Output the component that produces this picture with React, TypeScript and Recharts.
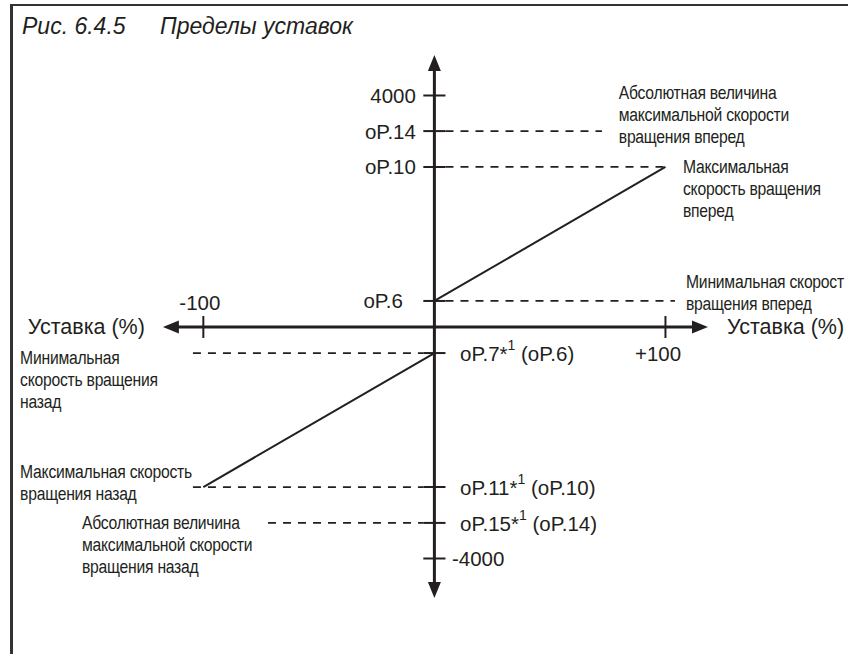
import React from 'react';
import { ComposedChart, Line, Scatter, XAxis, YAxis, ReferenceLine } from 'recharts';

const INK = '#231f20';
const MAIN_FONT = '"Liberation Sans", Arial, sans-serif';

// schematic units: x = setpoint %, y = speed levels (the drawing is not to scale)
const yTickValues = [4000, 3385, 2765, 450, -450, -2765, -3385, -4000];
const yTickLabels = ['4000', 'oP.14', 'oP.10', 'oP.6', 'oP.7*1 (oP.6)', 'oP.11*1 (oP.10)', 'oP.15*1 (oP.14)', '-4000'];
const yTickLabelX = [-8, -8, -8, -13.6, 11.1, 11.1, 11.1, 7.6];

const xTickValues = [-100, 100];
const xTickLabels = ['-100', '+100'];
const xTickLabelX = [-101.5, 96.8];
const xTickLabelY = [415, -450];

const axisNames = ['Уставка (%)', 'Уставка (%)'];
const axisNameX = [-125.3, 126.6];

const forwardLine = [{ x: 0, y: 450 }, { x: 100, y: 2765 }];
const reverseLine = [{ x: -100, y: -2765 }, { x: 0, y: -450 }];

// dashed guide lines: level, and where they stop away from the axis
const guideLevels = [3385, 2765, 450, -450, -2765, -3385];
const guideEnds = [72.5, 100, 104.1, -104.5, -104.5, -72];

const notes = [
    ['Абсолютная величина', 'максимальной скорости', 'вращения вперед'],
    ['Максимальная', 'скорость вращения', 'вперед'],
    ['Минимальная скорост', 'вращения вперед'],
    ['Минимальная', 'скорость вращения', 'назад'],
    ['Максимальная скорость', 'вращения назад'],
    ['Абсолютная величина', 'максимальной скорости', 'вращения назад'],
];
const noteX = [79.8, 107.6, 108.9, -179.3, -179.3, -152.5];
const noteY = [4043, 2764, 777, -536, -2505, -3386];

const axisEnds = { left: -117.5, right: 118.4, top: 4700, bottom: -4682 };
const TICK_HALF_X = 4.8;
const TICK_HALF_Y = 190;

const tickLabelData = yTickValues.map((v, i) => ({ x: yTickLabelX[i], y: v, text: yTickLabels[i], anchor: yTickLabelX[i] < 0 ? 'end' : 'start', size: 20.5 }))
    .concat(xTickValues.map((_, i) => ({ x: xTickLabelX[i], y: xTickLabelY[i], text: xTickLabels[i], anchor: 'middle', size: 20.5 })))
    .concat(axisNames.map((t, i) => ({ x: axisNameX[i], y: 0, text: t, anchor: axisNameX[i] < 0 ? 'end' : 'start', size: 21.5 })));

const noteData = notes.map((lines, i) => ({ x: noteX[i], y: noteY[i], lines }));

const arrowData = [
    { x: axisEnds.left, y: 0 },
    { x: axisEnds.right, y: 0 },
    { x: 0, y: axisEnds.top },
    { x: 0, y: axisEnds.bottom },
];

const TickText = (props: any) => {
    const { cx, cy, payload } = props;
    const text: string = payload.text;
    const parts = text.split('*1');
    return (
        <text x={cx} y={cy} textAnchor={payload.anchor} dominantBaseline="central"
            fontFamily={MAIN_FONT} fontSize={payload.size} fill={INK}>
            {parts.length === 1 ? text : (
                <>
                    <tspan>{parts[0] + '*'}</tspan>
                    <tspan dy={-8} fontSize={14}>1</tspan>
                    <tspan dy={8}>{parts[1]}</tspan>
                </>
            )}
        </text>
    );
};

// the source uses a condensed face, so squeeze the regular one
const NoteText = (props: any) => {
    const { cx, cy, payload } = props;
    return (
        <text transform={`translate(${cx},${cy}) scale(0.85,1)`} dominantBaseline="central"
            fontFamily={MAIN_FONT} fontSize={18.5} letterSpacing={-0.3} fill={INK}>
            {payload.lines.map((l: string, i: number) => (
                <tspan key={i} x={0} dy={i === 0 ? 0 : 22}>{l}</tspan>
            ))}
        </text>
    );
};

const ArrowHead = (props: any) => {
    const { cx, cy, payload } = props;
    const len = 16;
    const half = 6.5;
    let pts = '';
    if (payload.y === 0) {
        const d = payload.x < 0 ? 1 : -1;
        pts = `${cx},${cy} ${cx + d * len},${cy - half} ${cx + d * len},${cy + half}`;
    } else {
        const d = payload.y > 0 ? 1 : -1;
        pts = `${cx},${cy} ${cx - half},${cy + d * len} ${cx + half},${cy + d * len}`;
    }
    return <polygon points={pts} fill={INK} />;
};

const titleStyle: React.CSSProperties = {
    position: 'absolute', top: 12, fontFamily: MAIN_FONT, fontStyle: 'italic',
    fontSize: 23, color: INK, whiteSpace: 'nowrap', lineHeight: '28px',
};

export default function App() {
    return (
        <div style={{ position: 'absolute', left: 0, top: 0, width: 848, height: 654, background: '#fff', overflow: 'hidden' }}>
            {/* frame */}
            <div style={{ position: 'absolute', left: 10, top: 4, width: 838, height: 2, background: '#333' }} />
            <div style={{ position: 'absolute', left: 10, top: 4, width: 2.5, height: 650, background: '#333' }} />
            <div style={{ ...titleStyle, left: 22 }}>Рис. 6.4.5</div>
            <div style={{ ...titleStyle, left: 160 }}>Пределы уставок</div>

            <ComposedChart width={848} height={654} margin={{ top: 0, right: 0, bottom: 0, left: 0 }}
                style={{ position: 'absolute', left: 0, top: 0 }}>
                <XAxis type="number" dataKey="x" domain={[-188, 179]} hide allowDataOverflow />
                <YAxis type="number" dataKey="y" domain={[-5650, 5650]} hide allowDataOverflow />

                {/* dashed guides */}
                {guideLevels.map((lv, i) => (
                    <ReferenceLine key={`g-${i}`}
                        segment={[{ x: guideEnds[i] > 0 ? TICK_HALF_X : guideEnds[i], y: lv }, { x: guideEnds[i] > 0 ? guideEnds[i] : -TICK_HALF_X, y: lv }]}
                        stroke={INK} strokeWidth={1.8} strokeDasharray="8 7" />
                ))}

                {/* axes */}
                <ReferenceLine segment={[{ x: axisEnds.left + 4, y: 0 }, { x: axisEnds.right - 4, y: 0 }]} stroke={INK} strokeWidth={3} />
                <ReferenceLine segment={[{ x: 0, y: axisEnds.top - 200 }, { x: 0, y: axisEnds.bottom + 200 }]} stroke={INK} strokeWidth={3} />

                {/* tick marks */}
                {yTickValues.map((v) => (
                    <ReferenceLine key={`yt-${v}`} segment={[{ x: -TICK_HALF_X, y: v }, { x: TICK_HALF_X, y: v }]} stroke={INK} strokeWidth={2} />
                ))}
                {xTickValues.map((v) => (
                    <ReferenceLine key={`xt-${v}`} segment={[{ x: v, y: -TICK_HALF_Y }, { x: v, y: TICK_HALF_Y }]} stroke={INK} strokeWidth={2} />
                ))}

                {/* characteristic */}
                <Line data={forwardLine} dataKey="y" type="linear" stroke={INK} strokeWidth={2} dot={false} isAnimationActive={false} />
                <Line data={reverseLine} dataKey="y" type="linear" stroke={INK} strokeWidth={2} dot={false} isAnimationActive={false} />

                <Scatter data={arrowData} shape={ArrowHead} isAnimationActive={false} />
                <Scatter data={tickLabelData} shape={TickText} isAnimationActive={false} />
                <Scatter data={noteData} shape={NoteText} isAnimationActive={false} />
            </ComposedChart>
        </div>
    );
}
